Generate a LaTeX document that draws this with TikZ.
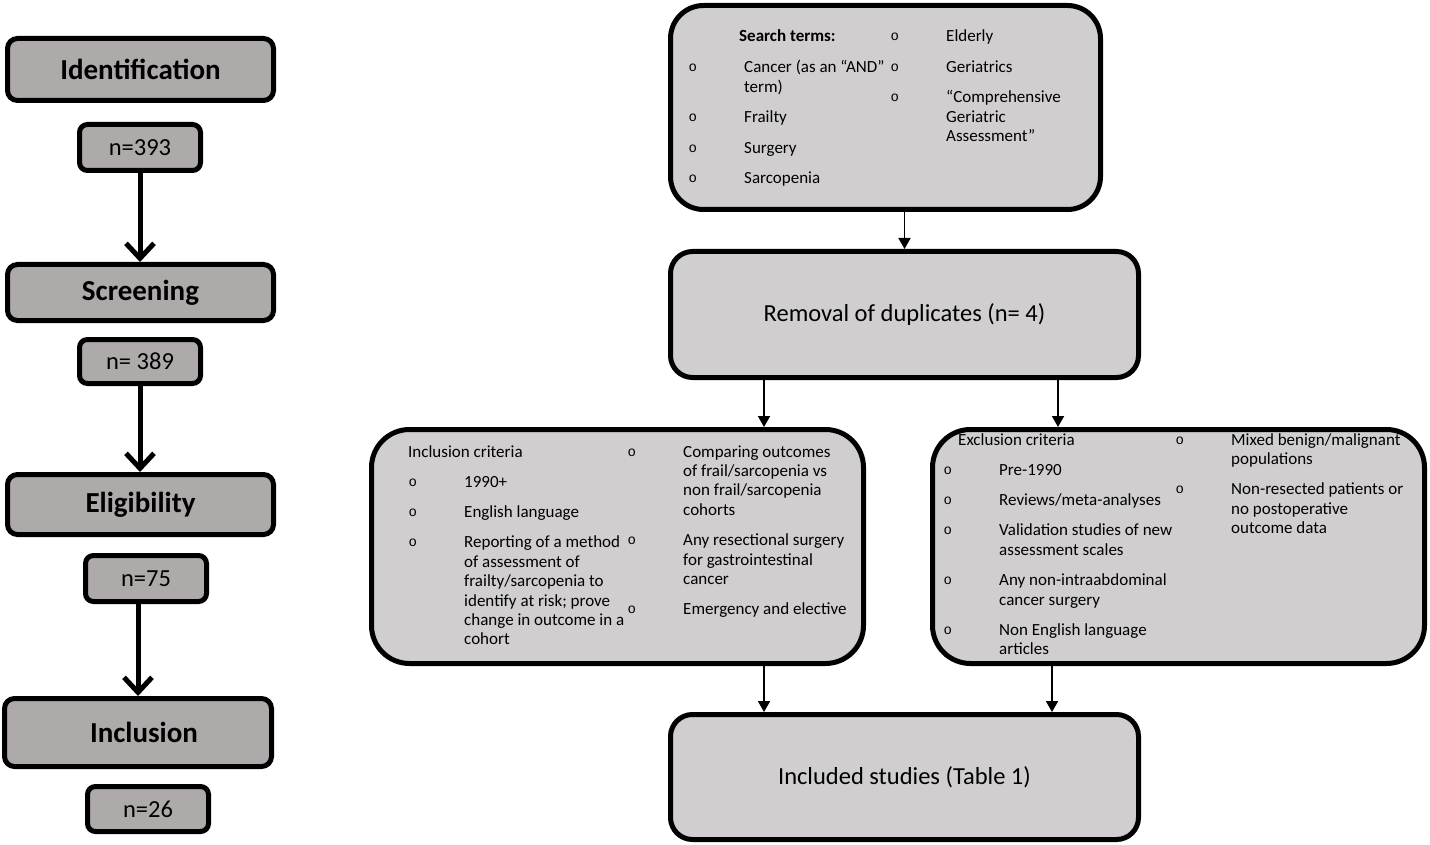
\documentclass[tikz,border=0pt]{standalone}
\usepackage{fontspec}
\setmainfont{Carlito}
\newfontfamily\bulletfont{Liberation Mono}
\usepackage{xcolor}
\definecolor{stagegray}{HTML}{AEAAAA}
\definecolor{flowgray}{HTML}{D0CECE}
\usetikzlibrary{arrows.meta,positioning}
\newcommand{\critbullet}{\hspace{1.5pt}\raisebox{1pt}{\bulletfont\fontsize{14}{14}\selectfont o}}

\begin{document}
\begin{tikzpicture}[x=1pt, y=-1pt,
  stagebox/.style={draw, line width=5pt, fill=stagegray, rounded corners=10pt,
    minimum width=266pt, inner sep=0pt, font=\fontsize{29}{32}\selectfont\bfseries},
  countbox/.style={draw, line width=5pt, fill=stagegray, rounded corners=8pt,
    minimum width=121pt, inner sep=0pt, font=\fontsize{24.5}{28}\selectfont},
  flowbox/.style={draw, line width=5pt, fill=flowgray, inner sep=0pt,
    font=\fontsize{24.5}{28}\selectfont},
  crit/.style={inner sep=0pt, anchor=base west, font=\fontsize{17}{19.4}\selectfont},
  stagearrow/.style={line width=5pt, -{Straight Barb[length=15pt, width=28pt]}},
  flowarrow/.style={line width=1.8pt, -{Triangle[length=11pt, width=12pt]}}]

\path[use as bounding box, fill=white] (0,0) rectangle (1430,845);

% PRISMA stages
\node[stagebox, minimum height=62pt] (ident) at (140.5,69.5) {Identification};
\node[countbox, minimum height=46pt] (n393) at (140,147.5) {n=393};
\node[stagebox, minimum height=56pt] (screen) at (140.5,292.5) {Screening};
\node[countbox, minimum height=44pt] (n389) at (140,361.5) {n= 389};
\node[stagebox, minimum height=60pt] (elig) at (140.5,504.5) {Eligibility};
\node[countbox, minimum height=46pt] (n75) at (146,578.5) {n=75};
\node[stagebox, minimum height=68pt, minimum width=267pt] (incl) at (138,732.5) {\hspace{12pt}Inclusion};
\node[countbox, minimum height=45pt] (n26) at (148,809) {n=26};

% search flow
\node[flowbox, rounded corners=33pt, minimum width=430pt, minimum height=204pt] (search) at (885.5,107.5) {};
\node[flowbox, rounded corners=22pt, minimum width=468pt, minimum height=126pt] (removal) at (904.5,314.5) {Removal of duplicates (n= 4)};
\node[flowbox, rounded corners=38pt, minimum width=492pt, minimum height=234pt] (inclbox) at (617.5,546.5) {};
\node[flowbox, rounded corners=38pt, minimum width=492pt, minimum height=234pt] (exclbox) at (1178.5,546.5) {};
\node[flowbox, rounded corners=22pt, minimum width=468pt, minimum height=125pt] (included) at (904.5,777) {Included studies (Table 1)};

% search terms
\node[crit, font=\fontsize{17}{19.4}\selectfont\bfseries] (searchhead) at (739,42) {Search terms:};
\node[crit] (searchleft) at (687,73) {\begin{tabular}[t]{@{}p{57pt}@{}l@{}}
  \critbullet & Cancer (as an “AND” \\ & term) \\[11pt]
  \critbullet & Frailty \\[11pt]
  \critbullet & Surgery \\[11pt]
  \critbullet & Sarcopenia
\end{tabular}};
\node[crit] (searchright) at (889,42) {\begin{tabular}[t]{@{}p{57pt}@{}l@{}}
  \critbullet & Elderly \\[11pt]
  \critbullet & Geriatrics \\[11pt]
  \critbullet & “Comprehensive \\ & Geriatric \\ & Assessment”
\end{tabular}};

% inclusion criteria
\node[crit] (inclhead) at (408,457) {Inclusion criteria};
\node[crit] (inclleft) at (407,487) {\begin{tabular}[t]{@{}p{57pt}@{}l@{}}
  \critbullet & 1990+ \\[11pt]
  \critbullet & English language \\[11pt]
  \critbullet & Reporting of a method \\ & of assessment of \\ & frailty/sarcopenia to \\
    & identify at risk; prove \\ & change in outcome in a \\ & cohort
\end{tabular}};
\node[crit] (inclright) at (626,457) {\begin{tabular}[t]{@{}p{57pt}@{}l@{}}
  \critbullet & Comparing outcomes \\ & of frail/sarcopenia vs \\ & non frail/sarcopenia \\ & cohorts \\[11pt]
  \critbullet & Any resectional surgery \\ & for gastrointestinal \\ & cancer \\[11pt]
  \critbullet & Emergency and elective
\end{tabular}};

% exclusion criteria
\node[crit] (exclhead) at (958,445) {Exclusion criteria};
\node[crit] (exclleft) at (942,475) {\begin{tabular}[t]{@{}p{57pt}@{}l@{}}
  \critbullet & Pre-1990 \\[11pt]
  \critbullet & Reviews/meta-analyses \\[11pt]
  \critbullet & Validation studies of new \\ & assessment scales \\[11pt]
  \critbullet & Any non-intraabdominal \\ & cancer surgery \\[11pt]
  \critbullet & Non English language \\ & articles
\end{tabular}};
\node[crit] (exclright) at (1174,445) {\begin{tabular}[t]{@{}p{57pt}@{}l@{}}
  \critbullet & Mixed benign/malignant \\ & populations \\[11pt]
  \critbullet & Non-resected patients or \\ & no postoperative \\ & outcome data
\end{tabular}};

% Connecting arrows
\draw[stagearrow] (n393.south) -- (n393.south |- screen.north);
\draw[stagearrow] (n389.south) -- (n389.south |- elig.north);
\draw[stagearrow] (incl.north |- n75.south) -- (incl.north);

\draw[flowarrow] (removal.north |- search.south) -- (removal.north);
\draw[flowarrow] ([xshift=-140.5pt]removal.south) -- ([xshift=-140.5pt]removal.south |- inclbox.north);
\draw[flowarrow] ([xshift=153.5pt]removal.south) -- ([xshift=153.5pt]removal.south |- exclbox.north);
\draw[flowarrow] ([xshift=146.5pt]inclbox.south) -- ([xshift=146.5pt]inclbox.south |- included.north);
\draw[flowarrow] ([xshift=-126.5pt]exclbox.south) -- ([xshift=-126.5pt]exclbox.south |- included.north);

\end{tikzpicture}
\end{document}
